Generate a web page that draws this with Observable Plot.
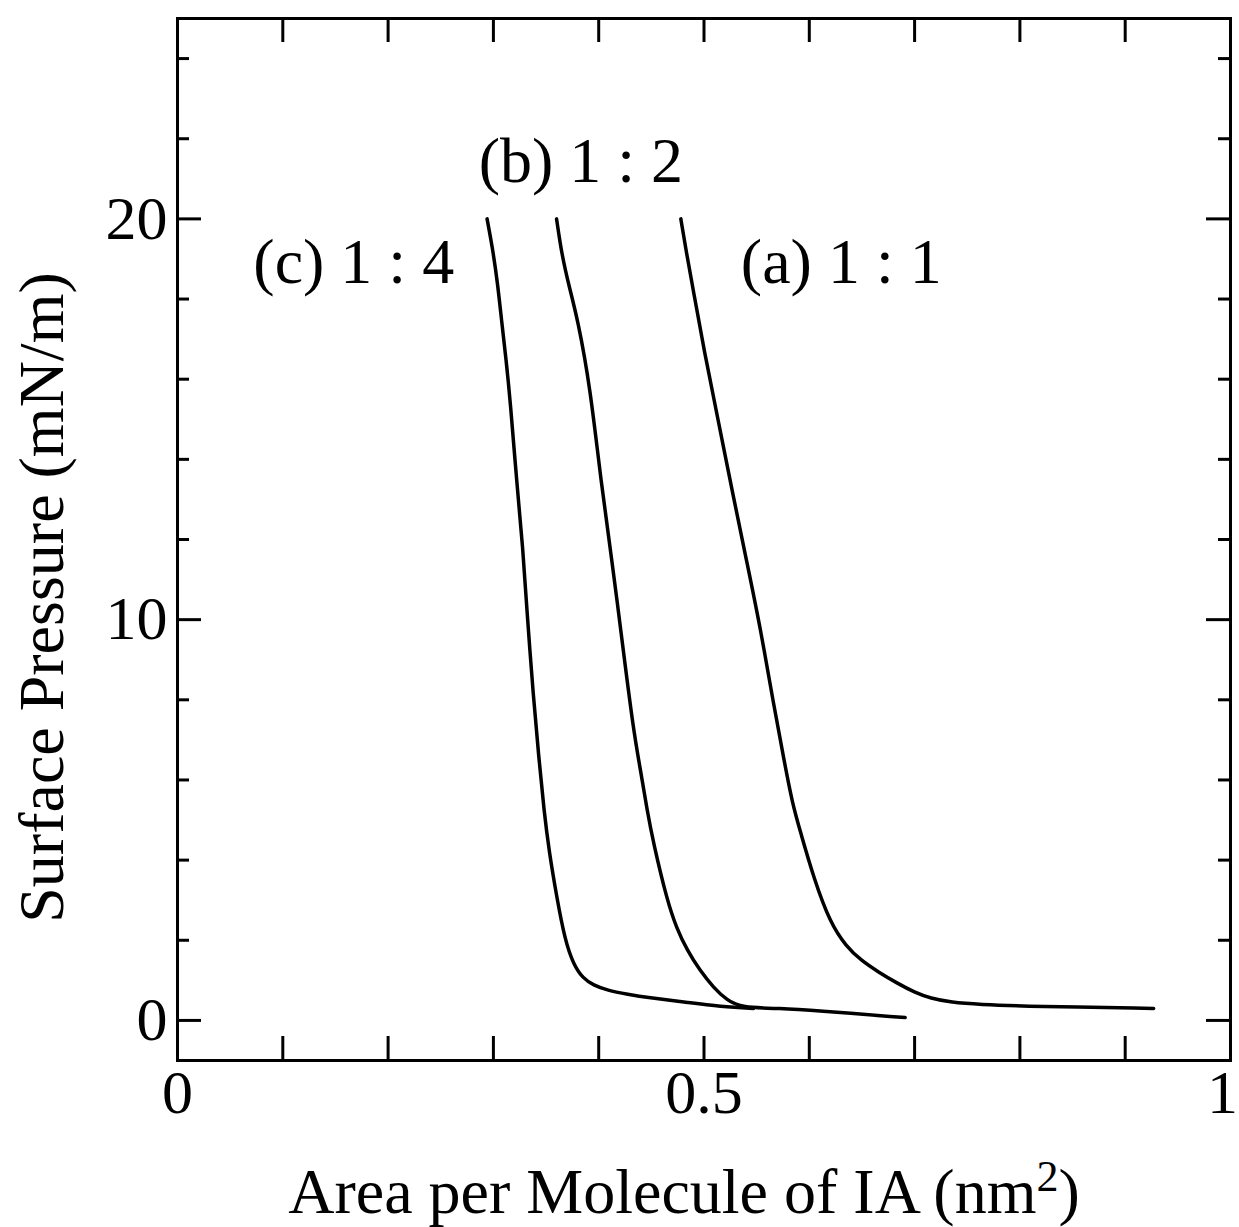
<!DOCTYPE html>
<html><head><meta charset="utf-8">
<script src="https://cdn.jsdelivr.net/npm/d3@7"></script>
<script src="https://cdn.jsdelivr.net/npm/@observablehq/plot@0.6"></script>
<style>body{margin:0;background:#fff}</style>
</head><body><div id="chart"></div>
<script>
// Curve (a) 1:1
const aX = [0.478, 0.483, 0.490, 0.500, 0.513, 0.528, 0.541, 0.554, 0.566, 0.576, 0.584, 0.592, 0.604, 0.620, 0.635, 0.649, 0.666, 0.684, 0.700, 0.715, 0.735, 0.760, 0.813, 0.927];
const aY = [20.0, 19.2, 18.2, 16.72, 15.04, 13.05, 11.40, 9.73, 7.90, 6.50, 5.40, 4.67, 3.57, 2.42, 1.85, 1.50, 1.20, 0.92, 0.70, 0.55, 0.45, 0.40, 0.35, 0.30];
// Curve (b) 1:2
const bX = [0.360, 0.365, 0.372, 0.380, 0.392, 0.402, 0.413, 0.423, 0.433, 0.440, 0.446, 0.452, 0.465, 0.474, 0.484, 0.496, 0.509, 0.522, 0.535, 0.573, 0.604, 0.691];
const bY = [20.0, 19.1, 18.3, 17.50, 15.79, 13.47, 11.40, 9.31, 7.24, 6.20, 5.24, 4.42, 2.99, 2.30, 1.75, 1.25, 0.82, 0.50, 0.32, 0.30, 0.25, 0.07];
// Curve (c) 1:4
const cX = [0.294, 0.299, 0.304, 0.308, 0.312, 0.316, 0.322, 0.328, 0.332, 0.338, 0.343, 0.348, 0.353, 0.360, 0.368, 0.376, 0.385, 0.395, 0.408, 0.428, 0.446, 0.484, 0.525, 0.547];
const cY = [20.0, 19.3, 18.4, 17.4, 16.5, 15.47, 13.47, 11.80, 10.15, 8.06, 6.60, 5.24, 4.20, 3.10, 2.00, 1.40, 1.05, 0.88, 0.75, 0.65, 0.57, 0.45, 0.32, 0.30];

const seriesNames = ["(a) 1 : 1", "(b) 1 : 2", "(c) 1 : 4"];
const labelX = [0.535, 0.286, 0.072];
const labelY = [18.39, 20.91, 18.39];

const xTicks = [0.1, 0.2, 0.3, 0.4, 0.5, 0.6, 0.7, 0.8, 0.9];
const xTickLabels = [0, 0.5];
const xTickLabelEnd = [1];
const yMajor = [0, 10, 20];
const yMinor = [2, 4, 6, 8, 12, 14, 16, 18, 22, 24];

const xTitle = "Area per Molecule of IA (nm2)";
const yTitle = "Surface Pressure (mN/m)";

const rows = [];
[[aX, aY], [bX, bY], [cX, cY]].forEach(([xs, ys], i) => {
  xs.forEach((x, j) => rows.push({series: seriesNames[i], x, y: ys[j]}));
});
const labels = seriesNames.map((t, i) => ({text: t, x: labelX[i], y: labelY[i]}));

const W = 1239, H = 1227;
const mL = 177, mR = 9, mT = 18, mB = 167;
const innerW = W - mL - mR, innerH = H - mT - mB;
const font = "Liberation Serif, Times New Roman, serif";
const fmt = d => d3.format("~g")(d);

const chart = Plot.plot({
  width: W, height: H,
  marginLeft: mL, marginRight: mR, marginTop: mT, marginBottom: mB,
  style: {fontFamily: font, background: "#fff", color: "#000", fontSize: "62px"},
  x: {domain: [0, 1], label: null},
  y: {domain: [-1, 25], label: null},
  marks: [
    Plot.tickX(xTicks, {x: d => d, insetTop: innerH - 24, strokeWidth: 3, stroke: "#000"}),
    Plot.tickX(xTicks, {x: d => d, insetBottom: innerH - 24, strokeWidth: 3, stroke: "#000"}),
    Plot.tickY(yMajor, {y: d => d, insetRight: innerW - 24, strokeWidth: 3, stroke: "#000"}),
    Plot.tickY(yMajor, {y: d => d, insetLeft: innerW - 24, strokeWidth: 3, stroke: "#000"}),
    Plot.tickY(yMinor, {y: d => d, insetRight: innerW - 12, strokeWidth: 3, stroke: "#000"}),
    Plot.tickY(yMinor, {y: d => d, insetLeft: innerW - 12, strokeWidth: 3, stroke: "#000"}),
    Plot.axisX({ticks: xTickLabels, tickSize: 0, tickPadding: 8, fontSize: 62, tickFormat: fmt, label: null}),
    Plot.axisX({ticks: xTickLabelEnd, tickSize: 0, tickPadding: 8, fontSize: 62, tickFormat: fmt, dx: -8, label: null}),
    Plot.axisY({ticks: yMajor, tickSize: 0, tickPadding: 10, fontSize: 62, tickFormat: fmt, label: null}),
    Plot.frame({stroke: "#000", strokeWidth: 3}),
    Plot.line(rows, {x: "x", y: "y", z: "series", curve: "basis", stroke: "#000", strokeWidth: 3.5}),
    Plot.text(labels, {x: "x", y: "y", text: "text", textAnchor: "start", lineAnchor: "bottom", fontSize: 64, fill: "#000"}),
    Plot.text([xTitle], {frameAnchor: "bottom", textAnchor: "middle", dx: -20, dy: 152, lineAnchor: "bottom", fontSize: 64, fill: "#000"}),
    Plot.text([yTitle], {frameAnchor: "left", textAnchor: "middle", rotate: -90, dx: -115, dy: 58, lineAnchor: "bottom", fontSize: 64, fill: "#000"})
  ]
});
document.getElementById("chart").appendChild(chart);

// superscript for nm²
d3.select(chart).selectAll("text").filter(function() { return this.textContent === xTitle; })
  .each(function() {
    const t = d3.select(this);
    t.text(null);
    t.append("tspan").text("Area per Molecule of IA (nm");
    t.append("tspan").attr("dy", -22).attr("font-size", 44).text("2");
    t.append("tspan").attr("dy", 22).text(")");
  });
</script>
</body></html>
